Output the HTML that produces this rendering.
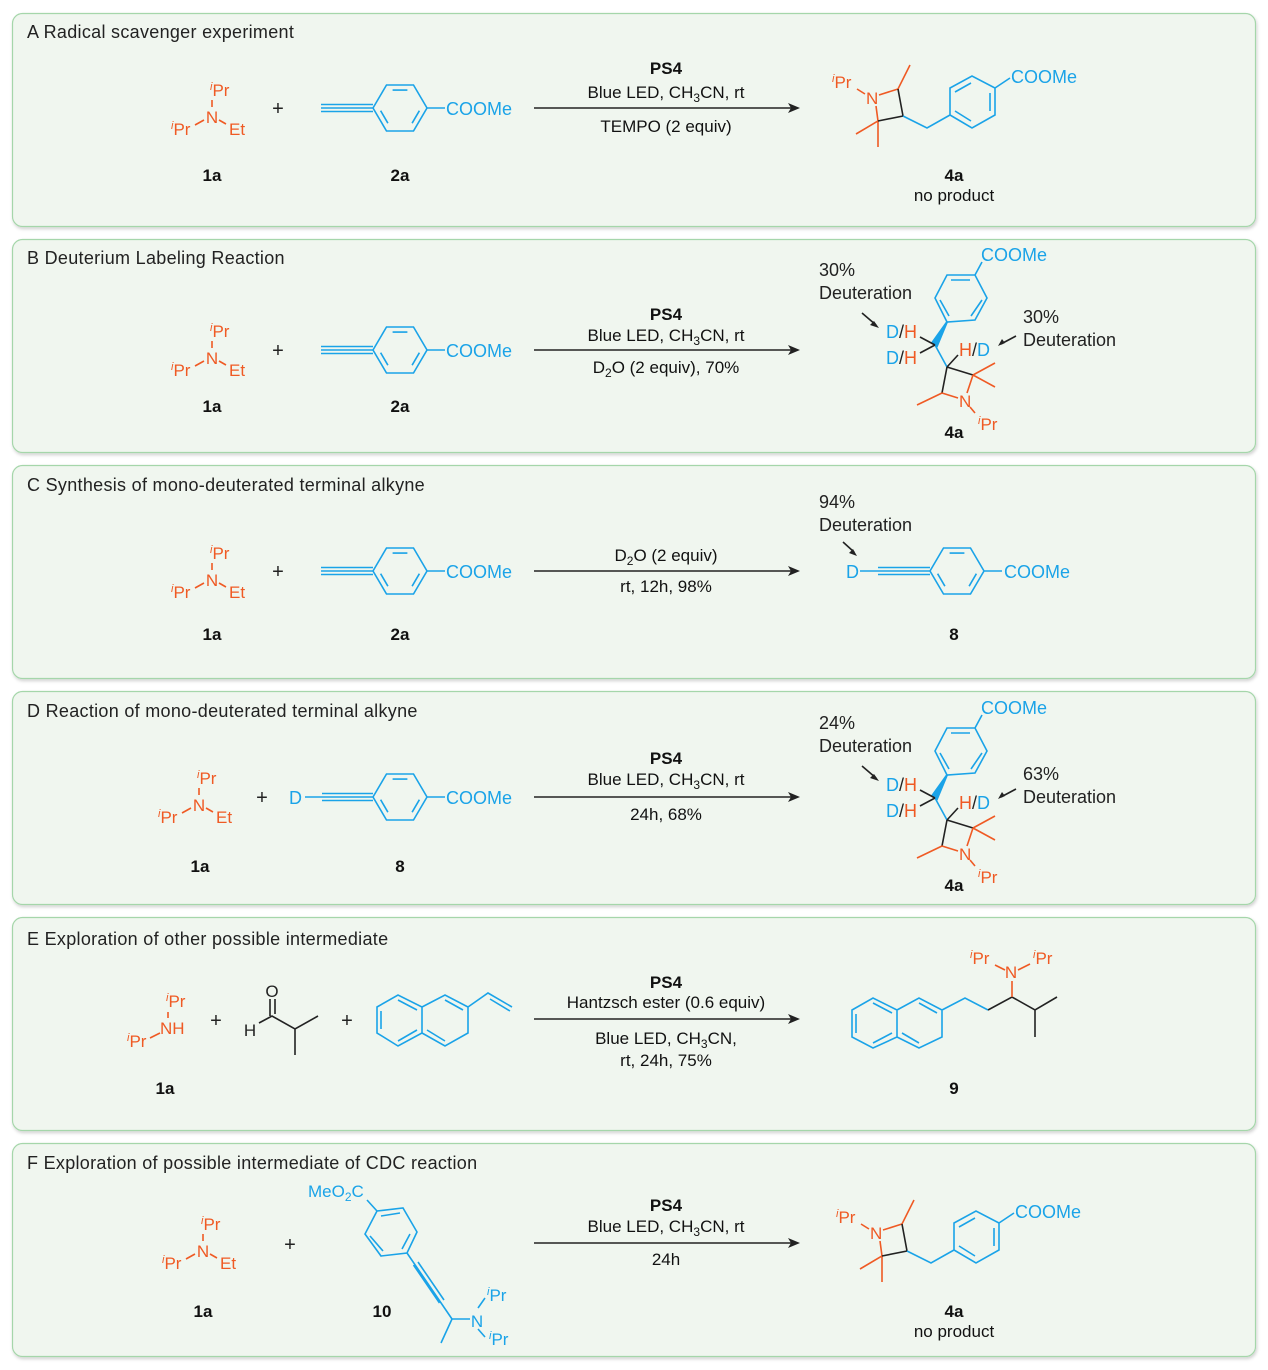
<!DOCTYPE html>
<html><head><meta charset="utf-8"><style>
html,body{margin:0;padding:0;background:#fff;}
svg{display:block;}
text{font-family:"Liberation Sans",Arial,sans-serif;font-size:17px;}
.t{font-size:18px;letter-spacing:0.3px}
.cm{font-size:18px}
.o{fill:#ef5a24}.b{fill:#1aa3e8}.k{fill:#222}
.lb{font-weight:bold;text-anchor:middle;fill:#111}
.c{text-anchor:middle;fill:#111}
.so{stroke:#ef5a24;stroke-width:1.6;fill:none}
.sb{stroke:#1aa3e8;stroke-width:1.6;fill:none}
.sk{stroke:#222;stroke-width:1.6;fill:none}
</style></head><body>
<svg width="1268" height="1370" viewBox="0 0 1268 1370" xmlns="http://www.w3.org/2000/svg">
<defs>
<filter id="sh" x="-2%" y="-5%" width="104%" height="115%"><feDropShadow dx="1" dy="2" stdDeviation="1.5" flood-color="#000" flood-opacity="0.18"/></filter>
</defs>
<g fill="#f0f6ef" stroke="#a5d6aa" stroke-width="1.2" filter="url(#sh)">
<rect x="12.5" y="13.5" width="1243" height="213" rx="10"/>
<rect x="12.5" y="239.5" width="1243" height="213" rx="10"/>
<rect x="12.5" y="465.5" width="1243" height="213" rx="10"/>
<rect x="12.5" y="691.5" width="1243" height="213" rx="10"/>
<rect x="12.5" y="917.5" width="1243" height="213" rx="10"/>
<rect x="12.5" y="1143.5" width="1243" height="213" rx="10"/>
</g>
<g class="k">
<text class="t" x="27" y="38">A  Radical scavenger experiment</text>
<text class="t" x="27" y="264">B  Deuterium Labeling Reaction</text>
<text class="t" x="27" y="491">C  Synthesis of mono-deuterated terminal alkyne</text>
<text class="t" x="27" y="717">D  Reaction of mono-deuterated terminal alkyne</text>
<text class="t" x="27" y="945">E  Exploration of other possible intermediate</text>
<text class="t" x="27" y="1169">F  Exploration of possible intermediate of CDC reaction</text>
</g>

<!-- Amines 1a -->
<g transform="translate(212,117)">
<text class="o" x="0" y="6" text-anchor="middle">N</text>
<text class="o" x="-2" y="-21"><tspan font-size="11" font-style="italic" dy="-6">i</tspan><tspan dy="6">Pr</tspan></text>
<text class="o" x="-41" y="18"><tspan font-size="11" font-style="italic" dy="-6">i</tspan><tspan dy="6">Pr</tspan></text>
<text class="o" x="17" y="18">Et</text>
<path class="so" d="M0,-17V-10M-17,8L-8,3M7,3L14,7"/>
</g>
<g transform="translate(212,358)">
<text class="o" x="0" y="6" text-anchor="middle">N</text>
<text class="o" x="-2" y="-21"><tspan font-size="11" font-style="italic" dy="-6">i</tspan><tspan dy="6">Pr</tspan></text>
<text class="o" x="-41" y="18"><tspan font-size="11" font-style="italic" dy="-6">i</tspan><tspan dy="6">Pr</tspan></text>
<text class="o" x="17" y="18">Et</text>
<path class="so" d="M0,-17V-10M-17,8L-8,3M7,3L14,7"/>
</g>
<g transform="translate(212,580)">
<text class="o" x="0" y="6" text-anchor="middle">N</text>
<text class="o" x="-2" y="-21"><tspan font-size="11" font-style="italic" dy="-6">i</tspan><tspan dy="6">Pr</tspan></text>
<text class="o" x="-41" y="18"><tspan font-size="11" font-style="italic" dy="-6">i</tspan><tspan dy="6">Pr</tspan></text>
<text class="o" x="17" y="18">Et</text>
<path class="so" d="M0,-17V-10M-17,8L-8,3M7,3L14,7"/>
</g>
<g transform="translate(199,805)">
<text class="o" x="0" y="6" text-anchor="middle">N</text>
<text class="o" x="-2" y="-21"><tspan font-size="11" font-style="italic" dy="-6">i</tspan><tspan dy="6">Pr</tspan></text>
<text class="o" x="-41" y="18"><tspan font-size="11" font-style="italic" dy="-6">i</tspan><tspan dy="6">Pr</tspan></text>
<text class="o" x="17" y="18">Et</text>
<path class="so" d="M0,-17V-10M-17,8L-8,3M7,3L14,7"/>
</g>
<g transform="translate(203,1251)">
<text class="o" x="0" y="6" text-anchor="middle">N</text>
<text class="o" x="-2" y="-21"><tspan font-size="11" font-style="italic" dy="-6">i</tspan><tspan dy="6">Pr</tspan></text>
<text class="o" x="-41" y="18"><tspan font-size="11" font-style="italic" dy="-6">i</tspan><tspan dy="6">Pr</tspan></text>
<text class="o" x="17" y="18">Et</text>
<path class="so" d="M0,-17V-10M-17,8L-8,3M7,3L14,7"/>
</g>

<!-- plus signs -->
<g class="k">
<text x="278" y="115" text-anchor="middle" style="font-size:20px">+</text>
<text x="278" y="357" text-anchor="middle" style="font-size:20px">+</text>
<text x="278" y="578" text-anchor="middle" style="font-size:20px">+</text>
<text x="262" y="804" text-anchor="middle" style="font-size:20px">+</text>
<text x="216" y="1027" text-anchor="middle" style="font-size:20px">+</text>
<text x="347" y="1027" text-anchor="middle" style="font-size:20px">+</text>
<text x="290" y="1251" text-anchor="middle" style="font-size:20px">+</text>
</g>

<!-- 2a -->
<g transform="translate(400,108)">
<path class="sb" d="M-79,-3.5H-27M-79,0H-27M-79,3.5H-27M-27,0L-13.5,-23H13.5L27,0L13.5,23H-13.5Z M-7.4,-17.9H7.4M19.4,2.7L12.1,15.2M-12.1,15.2L-19.4,2.7M27,0H45"/>
<text class="b cm" x="46" y="7">COOMe</text>
</g>
<g transform="translate(400,350)">
<path class="sb" d="M-79,-3.5H-27M-79,0H-27M-79,3.5H-27M-27,0L-13.5,-23H13.5L27,0L13.5,23H-13.5Z M-7.4,-17.9H7.4M19.4,2.7L12.1,15.2M-12.1,15.2L-19.4,2.7M27,0H45"/>
<text class="b cm" x="46" y="7">COOMe</text>
</g>
<g transform="translate(400,571)">
<path class="sb" d="M-79,-3.5H-27M-79,0H-27M-79,3.5H-27M-27,0L-13.5,-23H13.5L27,0L13.5,23H-13.5Z M-7.4,-17.9H7.4M19.4,2.7L12.1,15.2M-12.1,15.2L-19.4,2.7M27,0H45"/>
<text class="b cm" x="46" y="7">COOMe</text>
</g>
<g transform="translate(400,797)">
<path class="sb" d="M-95,0H-78M-78,-3.5H-27M-78,0H-27M-78,3.5H-27M-27,0L-13.5,-23H13.5L27,0L13.5,23H-13.5Z M-7.4,-17.9H7.4M19.4,2.7L12.1,15.2M-12.1,15.2L-19.4,2.7M27,0H45"/>
<text class="b cm" x="46" y="7">COOMe</text>
<text class="b cm" x="-111" y="7">D</text>
</g>

<!-- labels -->
<g>
<text class="lb" x="212" y="181">1a</text><text class="lb" x="400" y="181">2a</text>
<text class="lb" x="212" y="412">1a</text><text class="lb" x="400" y="412">2a</text>
<text class="lb" x="212" y="640">1a</text><text class="lb" x="400" y="640">2a</text><text class="lb" x="954" y="640">8</text>
<text class="lb" x="200" y="872">1a</text><text class="lb" x="400" y="872">8</text>
<text class="lb" x="165" y="1094">1a</text><text class="lb" x="954" y="1094">9</text>
<text class="lb" x="203" y="1317">1a</text><text class="lb" x="382" y="1317">10</text>
</g>

<!-- Arrows and conditions -->
<g stroke="#222" stroke-width="1.4">
<line x1="534" y1="108" x2="792" y2="108"/>
<line x1="534" y1="350" x2="792" y2="350"/>
<line x1="534" y1="571" x2="792" y2="571"/>
<line x1="534" y1="797" x2="792" y2="797"/>
<line x1="534" y1="1019" x2="792" y2="1019"/>
<line x1="534" y1="1243" x2="792" y2="1243"/>
</g>
<g fill="#222">
<path d="M800,108l-12,-5l3,5l-3,5z"/>
<path d="M800,350l-12,-5l3,5l-3,5z"/>
<path d="M800,571l-12,-5l3,5l-3,5z"/>
<path d="M800,797l-12,-5l3,5l-3,5z"/>
<path d="M800,1019l-12,-5l3,5l-3,5z"/>
<path d="M800,1243l-12,-5l3,5l-3,5z"/>
</g>
<g>
<text class="c" x="666" y="74" font-weight="bold">PS4</text>
<text class="c" x="666" y="98">Blue LED, CH<tspan font-size="12" dy="4">3</tspan><tspan dy="-4">CN, rt</tspan></text>
<text class="c" x="666" y="132">TEMPO (2 equiv)</text>

<text class="c" x="666" y="320" font-weight="bold">PS4</text>
<text class="c" x="666" y="341">Blue LED, CH<tspan font-size="12" dy="4">3</tspan><tspan dy="-4">CN, rt</tspan></text>
<text class="c" x="666" y="373">D<tspan font-size="12" dy="4">2</tspan><tspan dy="-4">O (2 equiv), 70%</tspan></text>

<text class="c" x="666" y="561">D<tspan font-size="12" dy="4">2</tspan><tspan dy="-4">O (2 equiv)</tspan></text>
<text class="c" x="666" y="592">rt, 12h, 98%</text>

<text class="c" x="666" y="764" font-weight="bold">PS4</text>
<text class="c" x="666" y="785">Blue LED, CH<tspan font-size="12" dy="4">3</tspan><tspan dy="-4">CN, rt</tspan></text>
<text class="c" x="666" y="820">24h, 68%</text>

<text class="c" x="666" y="988" font-weight="bold">PS4</text>
<text class="c" x="666" y="1008">Hantzsch ester (0.6 equiv)</text>
<text class="c" x="666" y="1044">Blue LED, CH<tspan font-size="12" dy="4">3</tspan><tspan dy="-4">CN,</tspan></text>
<text class="c" x="666" y="1066">rt, 24h, 75%</text>

<text class="c" x="666" y="1211" font-weight="bold">PS4</text>
<text class="c" x="666" y="1232">Blue LED, CH<tspan font-size="12" dy="4">3</tspan><tspan dy="-4">CN, rt</tspan></text>
<text class="c" x="666" y="1265">24h</text>
</g>

<!-- Product 4a panel A and F -->
<g>
<text class="o" x="832" y="88"><tspan font-size="11" font-style="italic" dy="-6">i</tspan><tspan dy="6">Pr</tspan></text>
<text class="o" x="866" y="104">N</text>
<path class="so" d="M857,89L865,94M879,95L898,89L910,65M876,106L878,121L856,134M878,121L878,147"/>
<path class="sk" d="M898,89L903,116L878,121"/>
<path class="sb" d="M903,116L927,128L950,115 M950,115V88L972,76L995,88V115L972,128Z M955,92L971,83M990,93V111M955,111L971,121M995,88L1010,78"/>
<text class="b cm" x="1011" y="83">COOMe</text>
<text class="lb" x="954" y="181">4a</text>
<text class="c" x="954" y="201">no product</text>
</g>
<g transform="translate(4,1135)">
<text class="o" x="832" y="88"><tspan font-size="11" font-style="italic" dy="-6">i</tspan><tspan dy="6">Pr</tspan></text>
<text class="o" x="866" y="104">N</text>
<path class="so" d="M857,89L865,94M879,95L898,89L910,65M876,106L878,121L856,134M878,121L878,147"/>
<path class="sk" d="M898,89L903,116L878,121"/>
<path class="sb" d="M903,116L927,128L950,115 M950,115V88L972,76L995,88V115L972,128Z M955,92L971,83M990,93V111M955,111L971,121M995,88L1010,78"/>
<text class="b cm" x="1011" y="83">COOMe</text>
<text class="lb" x="950" y="182">4a</text>
<text class="c" x="950" y="202">no product</text>
</g>

<!-- Product 4a deuterated panel B, D -->
<g>
<path class="sb" d="M947,322L935,298L947,275L975,275L987,298L975,320Z M951,280L970,280M982,300L971,316M940,300L949,316M975,275L982,262"/>
<path d="M947,322L937,346L932,343Z" fill="#1aa3e8" stroke="#1aa3e8" stroke-width="2"/>
<path class="sb" d="M935,345L947,367"/>
<path class="sk" d="M935,345L920,337M935,345L920,353M947,367L958,355M947,367L973,375M947,367L942,393"/>
<path class="so" d="M973,375L995,363M973,375L995,387M942,393L917,405M942,393L958,398M973,375L967,393M970,407L975,413"/>
<text class="o" x="959" y="407">N</text>
<text class="o" x="978" y="430"><tspan font-size="11" font-style="italic" dy="-6">i</tspan><tspan dy="6">Pr</tspan></text>
<text class="b cm" x="981" y="261">COOMe</text>
<text class="cm" x="886" y="338"><tspan class="b">D</tspan><tspan class="k">/</tspan><tspan class="o">H</tspan></text>
<text class="cm" x="886" y="364"><tspan class="b">D</tspan><tspan class="k">/</tspan><tspan class="o">H</tspan></text>
<text class="cm" x="959" y="356"><tspan class="o">H</tspan><tspan class="k">/</tspan><tspan class="b">D</tspan></text>
<text class="k cm" x="819" y="276">30%</text>
<text class="k cm" x="819" y="299">Deuteration</text>
<text class="k cm" x="1023" y="323">30%</text>
<text class="k cm" x="1023" y="346">Deuteration</text>
<path class="sk" d="M862,313L876,325M1016,336L1001,344"/>
<path d="M879,328l-9,-3l4,-4z M998,346l4,-7l3,4z" fill="#222"/>
<text class="lb" x="954" y="438">4a</text>
</g>
<g transform="translate(0,453)">
<path class="sb" d="M947,322L935,298L947,275L975,275L987,298L975,320Z M951,280L970,280M982,300L971,316M940,300L949,316M975,275L982,262"/>
<path d="M947,322L937,346L932,343Z" fill="#1aa3e8" stroke="#1aa3e8" stroke-width="2"/>
<path class="sb" d="M935,345L947,367"/>
<path class="sk" d="M935,345L920,337M935,345L920,353M947,367L958,355M947,367L973,375M947,367L942,393"/>
<path class="so" d="M973,375L995,363M973,375L995,387M942,393L917,405M942,393L958,398M973,375L967,393M970,407L975,413"/>
<text class="o" x="959" y="407">N</text>
<text class="o" x="978" y="430"><tspan font-size="11" font-style="italic" dy="-6">i</tspan><tspan dy="6">Pr</tspan></text>
<text class="b cm" x="981" y="261">COOMe</text>
<text class="cm" x="886" y="338"><tspan class="b">D</tspan><tspan class="k">/</tspan><tspan class="o">H</tspan></text>
<text class="cm" x="886" y="364"><tspan class="b">D</tspan><tspan class="k">/</tspan><tspan class="o">H</tspan></text>
<text class="cm" x="959" y="356"><tspan class="o">H</tspan><tspan class="k">/</tspan><tspan class="b">D</tspan></text>
<text class="k cm" x="819" y="276">24%</text>
<text class="k cm" x="819" y="299">Deuteration</text>
<text class="k cm" x="1023" y="327">63%</text>
<text class="k cm" x="1023" y="350">Deuteration</text>
<path class="sk" d="M862,313L876,325M1016,336L1001,344"/>
<path d="M879,328l-9,-3l4,-4z M998,346l4,-7l3,4z" fill="#222"/>
<text class="lb" x="954" y="438">4a</text>
</g>

<!-- Product 8 -->
<g>
<text class="k cm" x="819" y="508">94%</text>
<text class="k cm" x="819" y="531">Deuteration</text>
<path class="sk" d="M843,542L854,552"/>
<path d="M857,556l-8,-3l4,-4z" fill="#222"/>
<text class="b cm" x="846" y="578">D</text>
<g transform="translate(957,571)">
<path class="sb" d="M-97,0H-79M-79,-3.5H-27M-79,0H-27M-79,3.5H-27M-27,0L-13.5,-23H13.5L27,0L13.5,23H-13.5Z M-7.4,-17.9H7.4M19.4,2.7L12.1,15.2M-12.1,15.2L-19.4,2.7M27,0H45"/>
<text class="b cm" x="47" y="7">COOMe</text>
</g>
</g>

<!-- Panel E reactants -->
<g>
<text class="o" x="166" y="1007"><tspan font-size="11" font-style="italic" dy="-6">i</tspan><tspan dy="6">Pr</tspan></text>
<path class="so" d="M168,1012V1018M150,1038L160,1033"/>
<text class="o" x="160" y="1034">NH</text>
<text class="o" x="127" y="1047"><tspan font-size="11" font-style="italic" dy="-6">i</tspan><tspan dy="6">Pr</tspan></text>
<text class="k" x="272" y="997" text-anchor="middle">O</text>
<text class="k" x="250" y="1036" text-anchor="middle">H</text>
<path class="sk" d="M270,999V1016M275,999V1014M259,1023L272,1016L295,1029L318,1016M295,1029V1055"/>
<path class="sb" d="M377,1007L398,995L422,1007V1033L398,1046L377,1033Z M422,1007L445,995L468,1007V1033L445,1046L422,1033 M381,1011V1029M398,1000L417,1010M398,1041L417,1030M445,1000L463,1010M445,1041L427,1030M468,1007L488,993L512,1007M490,999L510,1011"/>
</g>
<!-- Product 9 -->
<g>
<path class="sb" d="M852,1010L873,998L897,1010V1037L873,1048L852,1037Z M897,1010L919,998L942,1010V1037L919,1048L897,1037 M856,1014V1033M873,1003L892,1013M873,1043L892,1033M919,1003L937,1013M919,1043L902,1033M942,1010L965,998L988,1010"/>
<path class="sk" d="M988,1010L1012,997L1035,1010L1057,997M1035,1010V1037"/>
<path class="so" d="M1012,997V981M995,965L1005,970M1018,970L1030,964"/>
<text class="o" x="1011" y="978" text-anchor="middle">N</text>
<text class="o" x="970" y="964"><tspan font-size="11" font-style="italic" dy="-6">i</tspan><tspan dy="6">Pr</tspan></text>
<text class="o" x="1033" y="964"><tspan font-size="11" font-style="italic" dy="-6">i</tspan><tspan dy="6">Pr</tspan></text>
</g>

<!-- Compound 10 -->
<g>
<text class="b" x="308" y="1197">MeO<tspan font-size="12" dy="4">2</tspan><tspan dy="-4">C</tspan></text>
<path class="sb" d="M367,1200L377,1211 M377,1211L403,1208L417,1232L407,1253L381,1256L365,1234Z M381,1216L400,1213M410,1234L402,1249M370,1236L383,1251M407,1253L452,1319M418,1262L444,1300M413.5,1265L439.5,1303M452,1319L470,1319M452,1319L441,1343M478,1308L485,1298M478,1329L485,1337"/>
<text class="b" x="477" y="1327" text-anchor="middle">N</text>
<text class="b" x="487" y="1301"><tspan font-size="11" font-style="italic" dy="-6">i</tspan><tspan dy="6">Pr</tspan></text>
<text class="b" x="489" y="1345"><tspan font-size="11" font-style="italic" dy="-6">i</tspan><tspan dy="6">Pr</tspan></text>
</g>
</svg>
</body></html>
